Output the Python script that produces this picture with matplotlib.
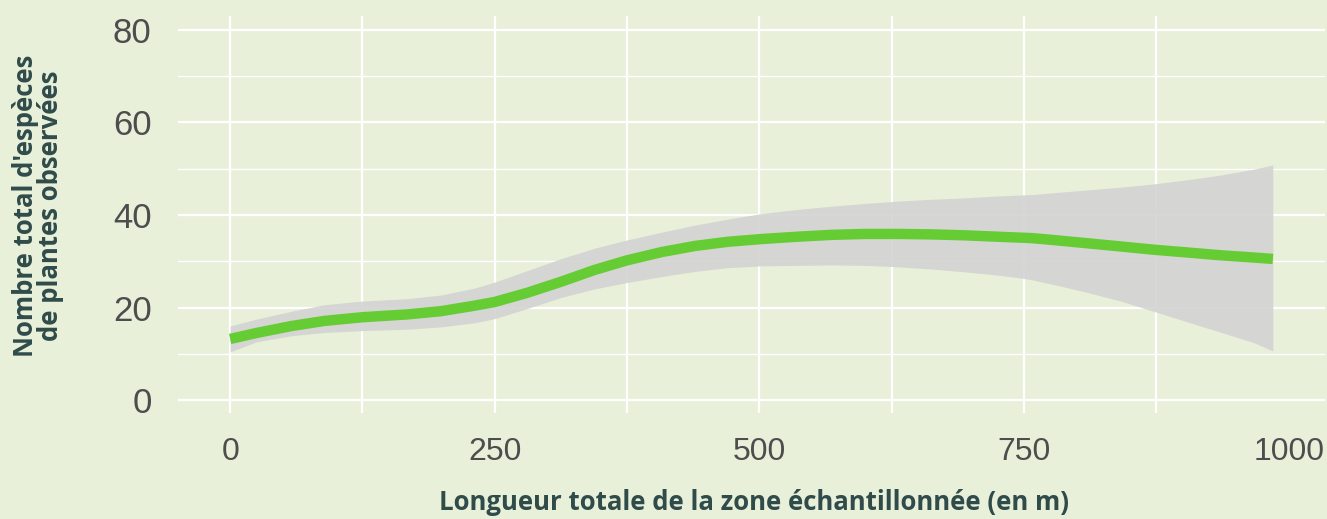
import matplotlib
matplotlib.use("Agg")
import matplotlib.pyplot as plt
import numpy as np

# Data (smoothed fit with confidence band)
length_m = [0, 25, 58, 89, 125, 167, 199, 231, 250, 281, 313, 344, 375, 408,
            439, 470, 502, 536, 568, 600, 631, 663, 694, 725, 746, 757, 777, 809,
            841, 872, 904, 935, 967, 985]
fit = [13.2, 14.5, 16.0, 17.1, 17.9, 18.5, 19.2, 20.4, 21.2, 23.2, 25.6, 28.1,
       30.2, 32.0, 33.3, 34.2, 34.8, 35.3, 35.7, 35.9, 35.9, 35.8, 35.6, 35.3,
       35.1, 35.0, 34.6, 33.9, 33.2, 32.5, 31.9, 31.3, 30.8, 30.5]
upper = [16.0, 17.5, 19.2, 20.6, 21.4, 21.9, 22.7, 24.2, 25.5, 28.0, 30.6, 32.8,
         34.6, 36.3, 37.8, 39.1, 40.3, 41.2, 41.9, 42.5, 43.0, 43.4, 43.7, 44.1,
         44.3, 44.4, 44.8, 45.4, 46.0, 46.7, 47.6, 48.6, 49.9, 50.8]
lower = [10.4, 12.6, 13.9, 14.6, 15.0, 15.3, 15.8, 16.7, 17.6, 19.8, 22.2, 24.0,
         25.4, 26.7, 27.8, 28.6, 29.0, 29.1, 29.2, 29.1, 28.8, 28.3, 27.7, 27.0,
         26.4, 26.0, 25.0, 23.3, 21.4, 19.2, 16.9, 14.7, 12.4, 10.6]

x_ticks = [0, 250, 500, 750, 1000]
x_tick_labels = ["0", "250", "500", "750", "1000"]
x_grid = [0, 125, 250, 375, 500, 625, 750, 875]
y_ticks = [0, 20, 40, 60, 80]
y_tick_labels = ["0", "20", "40", "60", "80"]
y_minor = [10, 30, 50, 70]
x_title = "Longueur totale de la zone échantillonnée (en m)"
y_title = "Nombre total d'espèces\nde plantes observées"

bg = "#E8F0DA"
title_color = "#2F4B4A"
tick_color = "#4D4D4D"

fig = plt.figure(figsize=(13.27, 5.19), dpi=100, facecolor=bg)
ax = fig.add_axes([178 / 1327, 106 / 519, 1147 / 1327, 397 / 519])
ax.set_facecolor(bg)

ax.fill_between(length_m, lower, upper, color="#D3D3D3", alpha=0.9, lw=0, zorder=3)
ax.plot(length_m, fit, color="#66CC33", lw=7.5, solid_capstyle="butt",
        solid_joinstyle="round", zorder=4)

ax.set_xlim(-49.25, 1034.25)
ax.set_ylim(-2.8, 83.0)

ax.set_xticks(x_ticks)
ax.set_xticklabels(x_tick_labels)
ax.set_yticks(y_ticks)
ax.set_yticklabels(y_tick_labels)
ax.set_yticks(y_minor, minor=True)

ax.grid(False)
ax.vlines(x_grid, 0, 1, transform=ax.get_xaxis_transform(), color="white",
          lw=1.6, zorder=1)
ax.grid(which="major", axis="y", color="white", lw=1.6, zorder=1)
ax.grid(which="minor", axis="y", color="white", lw=1.0, zorder=1)
ax.set_axisbelow(True)

ax.tick_params(axis="both", which="both", length=0)
ax.tick_params(axis="y", pad=19, labelsize=25, labelcolor=tick_color)
ax.tick_params(axis="x", pad=17, labelsize=23, labelcolor=tick_color)
for lab in ax.get_xticklabels() + ax.get_yticklabels():
    lab.set_fontfamily("Liberation Sans")

for s in ax.spines.values():
    s.set_visible(False)

fig.text(754 / 1327, 1 - 502 / 519, x_title, ha="center", va="center",
         fontsize=18.5, fontweight="bold", family="Open Sans", color=title_color)
fig.text(38 / 1327, 1 - 206 / 519, y_title, ha="center", va="center",
         rotation=90, fontsize=18.5, fontweight="bold", family="Open Sans",
         color=title_color, linespacing=0.95, multialignment="center")

fig.savefig("out.png", dpi=100, facecolor=bg)
